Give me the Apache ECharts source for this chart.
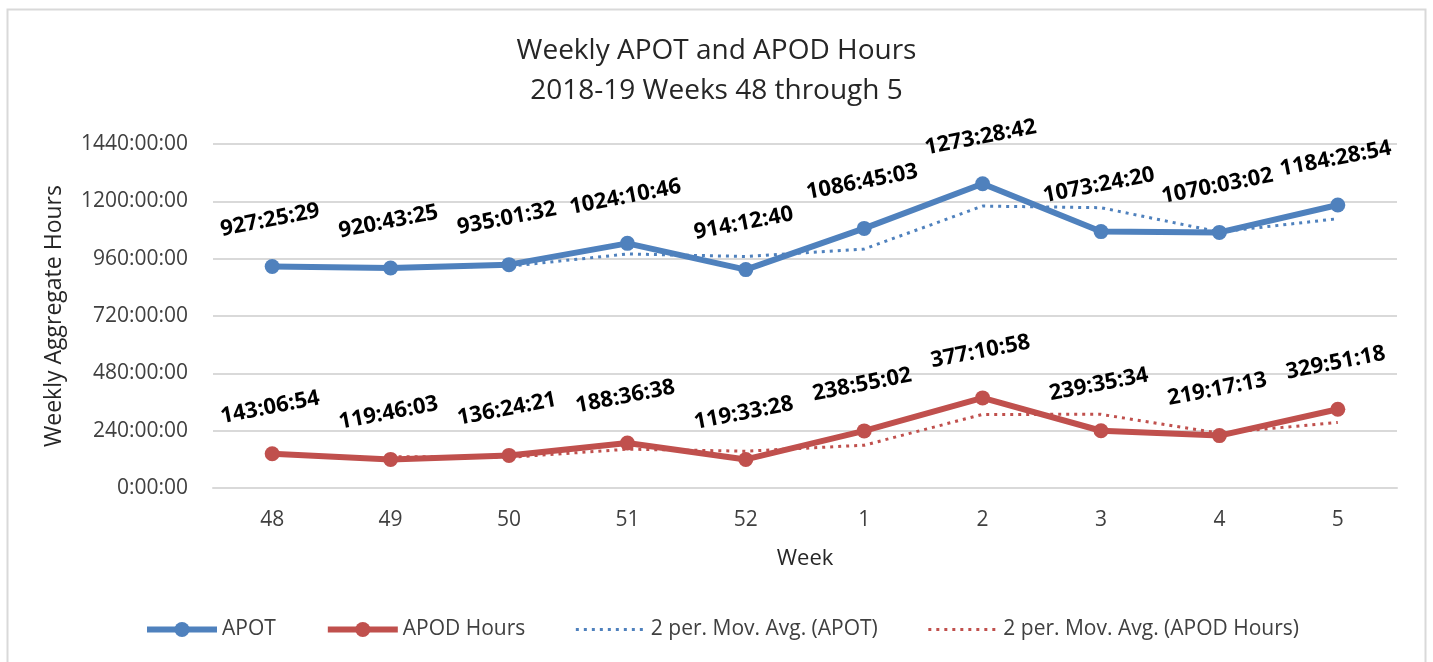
<!DOCTYPE html>
<html>
<head>
<meta charset="utf-8">
<title>Weekly APOT and APOD Hours</title>
<script src="https://cdn.jsdelivr.net/npm/echarts@6/dist/echarts.min.js"></script>
<style>
  html, body { margin: 0; padding: 0; background: #fff; }
  #chart { width: 1433px; height: 662px; }
</style>
</head>
<body>
<div id="chart"></div>
<script>
const weeks = ['48', '49', '50', '51', '52', '1', '2', '3', '4', '5']

// weekly totals as printed on the chart (h:mm:ss)
const apotTimes = ['927:25:29', '920:43:25', '935:01:32', '1024:10:46', '914:12:40',
  '1086:45:03', '1273:28:42', '1073:24:20', '1070:03:02', '1184:28:54']
const apodTimes = ['143:06:54', '119:46:03', '136:24:21', '188:36:38', '119:33:28',
  '238:55:02', '377:10:58', '239:35:34', '219:17:13', '329:51:18']

// 2 period moving average trendlines, hours
const apotMovAvg = [null, 924.1, 927.9, 979.6, 969.2, 1000.5, 1180.1, 1173.4, 1071.7, 1127.3]
const apodMovAvg = [null, 131.5, 128.1, 162.5, 154.1, 179.2, 308.0, 308.4, 229.4, 274.6]

const yTicks = [0, 240, 480, 720, 960, 1200, 1440]

const BLUE = '#4f81bd'
const RED = '#c0504d'
const FONT = '"Open Sans", sans-serif'
const DOTS = [3, 5]

const toHours = (t) => {
  const [h, m, s] = t.split(':').map(Number)
  return h + m / 60 + s / 3600
}

const valueLabel = (times) => ({
  show: true,
  position: 'top',
  distance: 28,
  rotate: 11,
  color: '#000',
  fontFamily: FONT,
  fontWeight: 'bold',
  fontSize: 22,
  formatter: (p) => times[p.dataIndex]
})

const mainSeries = (name, times, color) => ({
  name,
  type: 'line',
  data: times.map(toHours),
  z: 3,
  symbol: 'circle',
  symbolSize: 15,
  lineStyle: { color, width: 6 },
  itemStyle: { color },
  label: valueLabel(times),
  animation: false
})

const avgSeries = (name, data, color) => ({
  name,
  type: 'line',
  data,
  z: 2,
  symbol: 'none',
  lineStyle: { color, width: 3, type: DOTS },
  itemStyle: { color },
  animation: false
})

const chart = echarts.init(document.getElementById('chart'))

chart.setOption({
  backgroundColor: '#fff',
  textStyle: { fontFamily: FONT },
  graphic: [{
    type: 'rect',
    left: 5,
    top: 7,
    shape: { width: 1418, height: 700 },
    style: { fill: 'none', stroke: '#d9d9d9', lineWidth: 2 },
    silent: true
  }],
  title: {
    text: 'Weekly APOT and APOD Hours\n2018-19 Weeks 48 through 5',
    left: 'center',
    top: 26,
    textStyle: {
      fontFamily: FONT,
      fontWeight: 'normal',
      fontSize: 28,
      lineHeight: 40,
      color: '#262626'
    }
  },
  grid: {
    left: 213,
    right: 36,
    top: 144,
    bottom: 174
  },
  xAxis: {
    type: 'category',
    data: weeks,
    boundaryGap: true,
    name: 'Week',
    nameLocation: 'middle',
    nameGap: 60,
    nameTextStyle: { fontSize: 22, color: '#262626', fontFamily: FONT, verticalAlign: 'top' },
    axisLine: { lineStyle: { color: '#d9d9d9', width: 2 } },
    axisTick: { show: false },
    axisLabel: { fontSize: 21, color: '#404040', margin: 22, fontFamily: FONT }
  },
  yAxis: {
    type: 'value',
    min: yTicks[0],
    max: yTicks[yTicks.length - 1],
    interval: yTicks[1] - yTicks[0],
    name: 'Weekly Aggregate Hours',
    nameLocation: 'middle',
    nameGap: 147,
    nameTextStyle: { fontSize: 23, color: '#262626', fontFamily: FONT },
    axisLine: { show: false },
    axisTick: { show: false },
    splitLine: { lineStyle: { color: '#d9d9d9', width: 2 } },
    axisLabel: {
      fontSize: 21,
      color: '#404040',
      margin: 25,
      fontFamily: FONT,
      formatter: (v) => `${v}:00:00`
    }
  },
  legend: {
    data: [
      { name: 'APOT', lineStyle: { width: 6 } },
      { name: 'APOD Hours', lineStyle: { width: 6 } },
      { name: '2 per. Mov. Avg. (APOT)', lineStyle: { width: 3, type: DOTS }, itemStyle: { opacity: 0 } },
      { name: '2 per. Mov. Avg. (APOD Hours)', lineStyle: { width: 3, type: DOTS }, itemStyle: { opacity: 0 } }
    ],
    left: 139,
    top: 614,
    itemWidth: 70,
    itemHeight: 19,
    itemGap: 49,
    textStyle: { fontSize: 21, color: '#404040', fontFamily: FONT }
  },
  series: [
    mainSeries('APOT', apotTimes, BLUE),
    mainSeries('APOD Hours', apodTimes, RED),
    avgSeries('2 per. Mov. Avg. (APOT)', apotMovAvg, BLUE),
    avgSeries('2 per. Mov. Avg. (APOD Hours)', apodMovAvg, RED)
  ]
})
</script>
</body>
</html>
